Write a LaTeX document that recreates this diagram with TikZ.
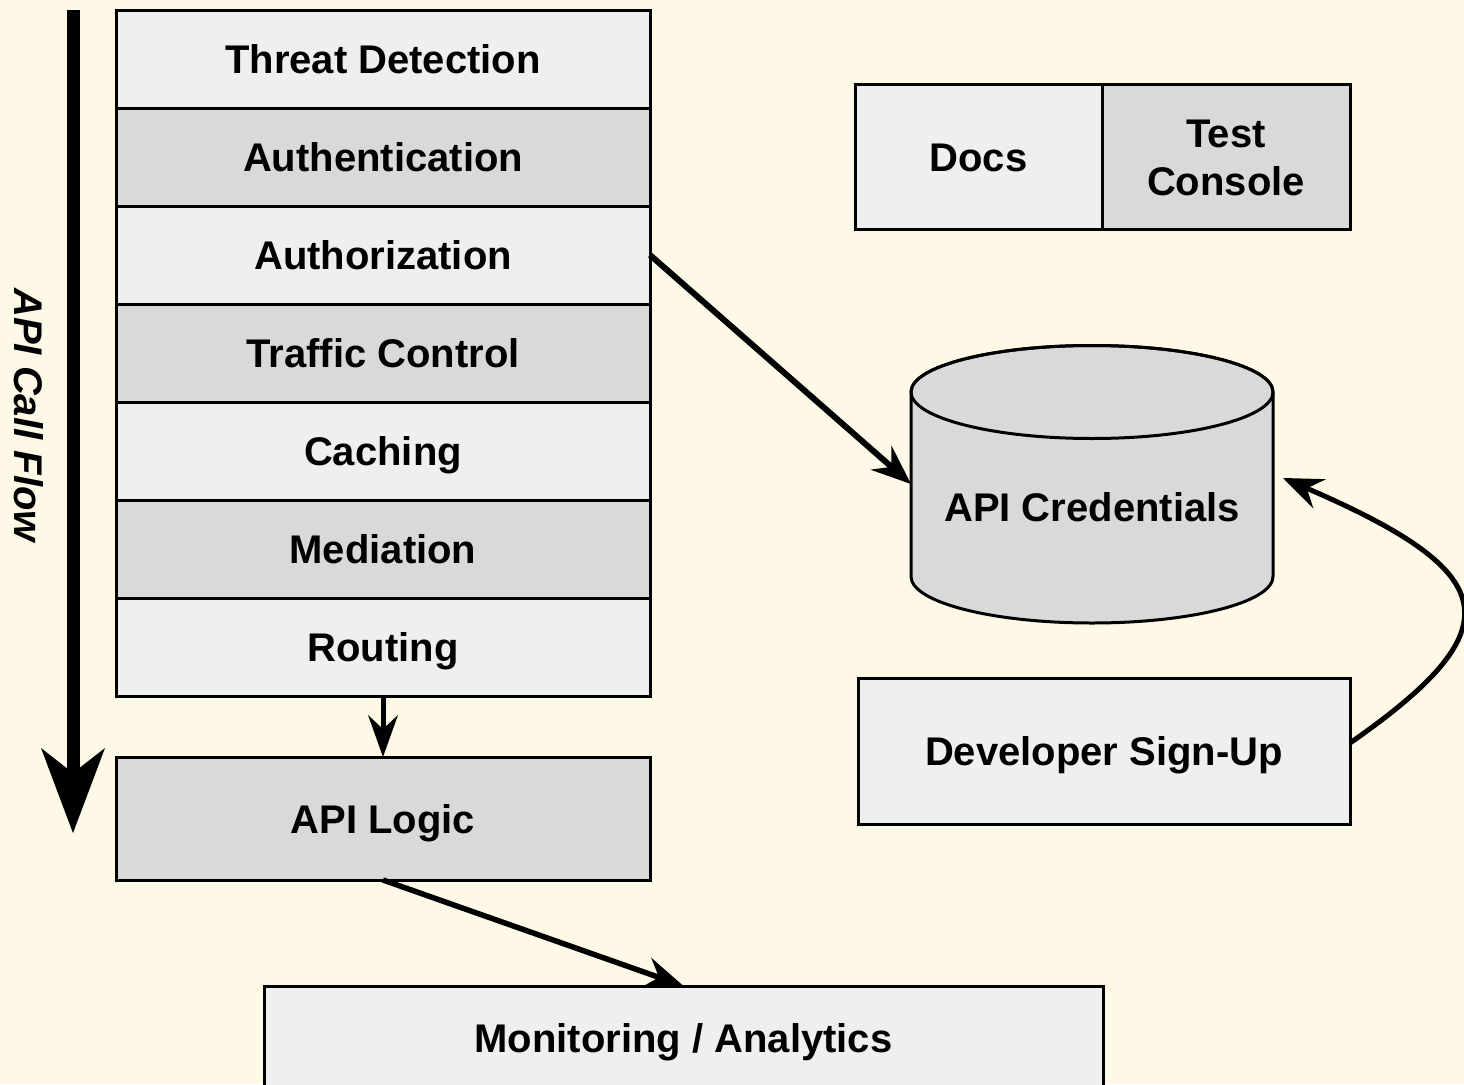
\documentclass[tikz,border=0pt]{standalone}
\usepackage{fontspec}
\setmainfont{Liberation Sans}
\usetikzlibrary{arrows.meta}

\definecolor{paper}{HTML}{FEF8E7}
\definecolor{boxlight}{HTML}{EFEFEF}
\definecolor{boxdark}{HTML}{D9D9D9}

\tikzset{
  box/.style={draw=black, line width=3pt, inner sep=0pt, outer sep=0pt,
    align=center, text height=29pt, text depth=0pt,
    font=\fontsize{40}{48}\selectfont\bfseries},
  light/.style={box, fill=boxlight},
  dark/.style={box, fill=boxdark},
  layer/.style={minimum width=534pt, minimum height=98pt},
  flow/.style={line width=6pt,
    -{Stealth[length=40pt,width=32pt,inset=14pt,line width=0pt]}},
}

\begin{document}
\begin{tikzpicture}[x=1pt,y=1pt]
  \useasboundingbox (0,0) rectangle (1464,-1084);
  \fill[paper] (0,0) rectangle (1464,-1084);

  % gateway policy stack
  \node[light,layer] (threat)  at (383,-59)  {Threat Detection};
  \node[dark,layer]  (authn)   at (383,-157) {Authentication};
  \node[light,layer] (authz)   at (383,-255) {Authorization};
  \node[dark,layer]  (traffic) at (383,-353) {Traffic Control};
  \node[light,layer] (cache)   at (383,-451) {Caching};
  \node[dark,layer]  (mediate) at (383,-549) {Mediation};
  \node[light,layer] (route)   at (383,-647) {Routing};

  \node[dark, minimum width=534pt, minimum height=123pt] (logic) at (383,-818.5) {API Logic};
  \node[light, minimum width=839pt, minimum height=104pt] (mon) at (683.5,-1038) {Monitoring / Analytics};

  % developer portal
  \node[light, minimum width=247pt, minimum height=145pt] (docs) at (978.5,-156.5) {Docs};
  \node[dark, minimum width=248pt, minimum height=145pt, text height=77pt] (console) at (1226,-156.5) {Test\\Console};
  \node[light, minimum width=492pt, minimum height=146pt] (signup) at (1104,-751) {Developer Sign-Up};

  % credential store (cylinder)
  \node[minimum width=362pt, minimum height=277pt, inner sep=0pt, outer sep=0pt] (cred) at (1092,-484) {};
  \filldraw[fill=boxdark, line width=3pt]
    (911,-392) -- (911,-576.5)
    arc[start angle=180, end angle=360, x radius=181pt, y radius=46.5pt]
    -- (1273,-392)
    arc[start angle=0, end angle=180, x radius=181pt, y radius=46.5pt] -- cycle;
  \draw[line width=3pt] (1092,-392) ellipse [x radius=181pt, y radius=46.5pt];
  \node[font=\fontsize{40}{48}\selectfont\bfseries, text height=29pt, text depth=0pt]
    (credtext) at ([yshift=-23pt]cred.center) {API Credentials};

  % call-flow direction
  \coordinate (flowtop) at (73,-10);
  \coordinate (flowend) at (73,-833);
  \draw[line width=13pt, -{Stealth[length=85pt,width=64pt,inset=25pt,line width=0pt]}] (flowtop) -- (flowend);
  \node[rotate=-90, font=\fontsize{40}{48}\selectfont\bfseries\itshape] (flowlabel) at (29,-415) {API Call Flow};

  % connectors
  \draw[flow] (authz.east) -- (cred.west);
  \draw[line width=5pt, -{Stealth[length=42pt,width=30pt,inset=14pt,line width=0pt]}] (route.south) -- (logic.north);
  \draw[line width=5.5pt, -{Stealth[length=40pt,width=32pt,inset=14pt,line width=0pt]}] (logic.south) -- (mon.north);
  \draw[line width=5pt, -{Stealth[length=40pt,width=32pt,inset=14pt,line width=0pt]}]
    ([yshift=8pt]signup.east) .. controls +(165,115) and +(220,-95) .. ([xshift=10pt,yshift=6pt]cred.east);
\end{tikzpicture}
\end{document}
